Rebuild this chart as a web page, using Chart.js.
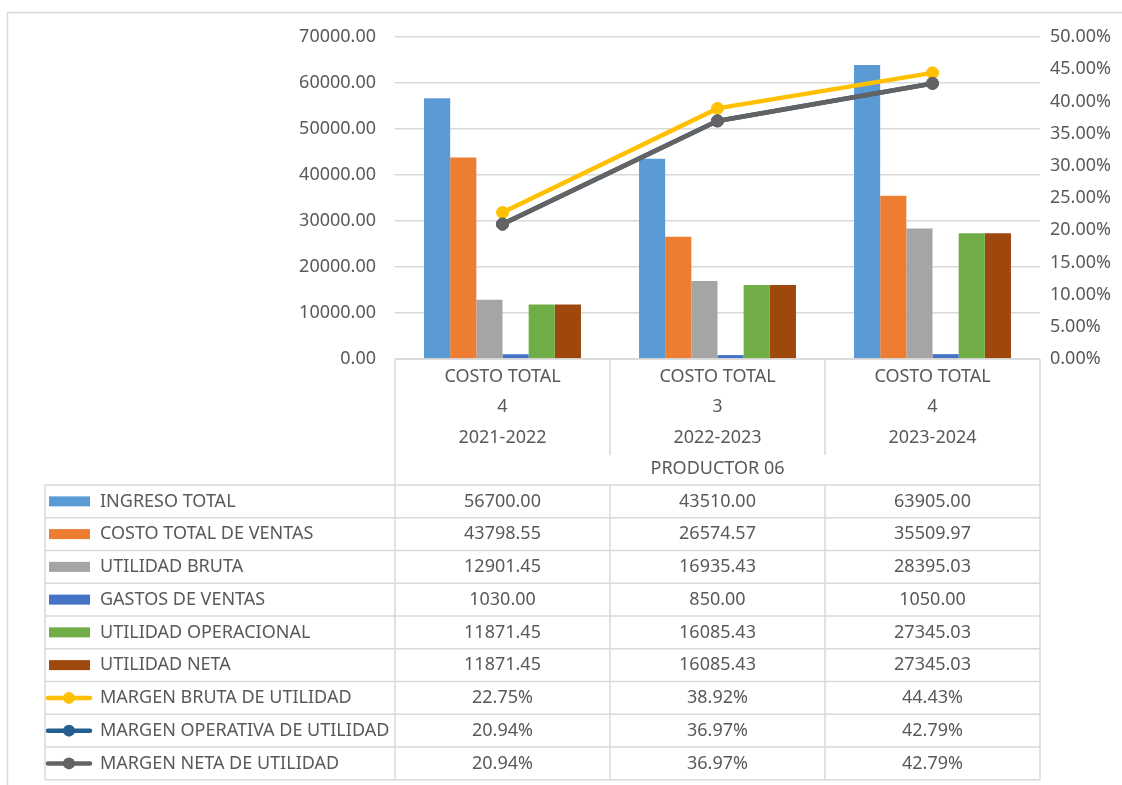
<!DOCTYPE html>
<html>
<head>
<meta charset="utf-8">
<script src="https://cdn.jsdelivr.net/npm/chart.js@4.4.1/dist/chart.umd.min.js"></script>
<style>
  html, body { margin: 0; padding: 0; background: #ffffff; }
  #wrap { position: relative; width: 1122px; height: 785px; overflow: hidden; }
</style>
</head>
<body>
<div id="wrap"><canvas id="grafico" width="1122" height="785"></canvas></div>
<script>
// Datos del productor 06
const periodos = ['2021-2022', '2022-2023', '2023-2024'];
const costoTotalN = ['4', '3', '4'];
const grupo = 'PRODUCTOR 06';

const ingresoTotal = [56700.00, 43510.00, 63905.00];
const costoVentas = [43798.55, 26574.57, 35509.97];
const utilidadBruta = [12901.45, 16935.43, 28395.03];
const gastosVentas = [1030.00, 850.00, 1050.00];
const utilidadOperacional = [11871.45, 16085.43, 27345.03];
const utilidadNeta = [11871.45, 16085.43, 27345.03];

const margenBruta = [0.2275, 0.3892, 0.4443];
const margenOperativa = [0.2094, 0.3697, 0.4279];
const margenNeta = [0.2094, 0.3697, 0.4279];

const FONT = '"Noto Sans", "Open Sans", sans-serif';
const TXT = '#595959';
const GRID = '#D9D9D9';

function barra(label, data, color) {
    return { type: 'bar', label: label, data: data, backgroundColor: color, yAxisID: 'y', order: 10 };
}
function linea(label, data, color, order) {
    return {
        type: 'line', label: label, data: data, yAxisID: 'y1', order: order,
        borderColor: color, backgroundColor: color, borderWidth: 4.5,
        pointRadius: 6, pointBackgroundColor: color, pointBorderColor: color, pointBorderWidth: 1,
        tension: 0
    };
}

const datasets = [
    barra('INGRESO TOTAL', ingresoTotal, '#5B9BD5'),
    barra('COSTO TOTAL DE VENTAS', costoVentas, '#ED7D31'),
    barra('UTILIDAD BRUTA', utilidadBruta, '#A5A5A5'),
    barra('GASTOS DE VENTAS', gastosVentas, '#4472C4'),
    barra('UTILIDAD OPERACIONAL', utilidadOperacional, '#70AD47'),
    barra('UTILIDAD NETA', utilidadNeta, '#9E480E'),
    linea('MARGEN BRUTA DE UTILIDAD', margenBruta, '#FFC000', 3),
    linea('MARGEN OPERATIVA DE UTILIDAD', margenOperativa, '#255E91', 2),
    linea('MARGEN NETA DE UTILIDAD', margenNeta, '#636363', 1)
];

// Tabla de datos debajo del grafico (como en Excel)
const tablaPlugin = {
    id: 'tablaDatos',
    afterDraw(chart) {
        const ctx = chart.ctx;
        const x = chart.scales.x;
        const area = chart.chartArea;
        const n = periodos.length;
        const bordes = [];
        for (let i = 0; i <= n; i++) bordes.push(x.getPixelForValue(i - 0.5));
        const xIzq = 45;
        const top = area.bottom;
        const filaTop = 485;
        const filaH = 32.75;
        const filas = datasets.length;
        const bottom = filaTop + filas * filaH;

        ctx.save();
        // marco exterior
        ctx.strokeStyle = GRID;
        ctx.lineWidth = 1.5;
        ctx.strokeRect(7.5, 12.5, 1300, 900);

        ctx.beginPath();
        ctx.moveTo(bordes[0], top); ctx.lineTo(bordes[n], top);
        ctx.moveTo(bordes[0], top); ctx.lineTo(bordes[0], bottom);
        ctx.moveTo(bordes[n], top); ctx.lineTo(bordes[n], bottom);
        for (let i = 1; i < n; i++) {
            ctx.moveTo(bordes[i], top); ctx.lineTo(bordes[i], 455);
            ctx.moveTo(bordes[i], filaTop); ctx.lineTo(bordes[i], bottom);
        }
        for (let r = 0; r <= filas; r++) {
            const yy = filaTop + r * filaH;
            ctx.moveTo(xIzq, yy); ctx.lineTo(bordes[n], yy);
        }
        ctx.moveTo(xIzq, filaTop); ctx.lineTo(xIzq, bottom);
        ctx.stroke();

        ctx.fillStyle = TXT;
        ctx.font = '18px ' + FONT;
        ctx.textAlign = 'center';
        ctx.textBaseline = 'middle';
        for (let i = 0; i < n; i++) {
            const cx = x.getPixelForValue(i);
            ctx.fillText('COSTO TOTAL', cx, 377);
            ctx.fillText(costoTotalN[i], cx, 407);
            ctx.fillText(periodos[i], cx, 438);
        }
        ctx.fillText(grupo, (bordes[0] + bordes[n]) / 2, 469);

        datasets.forEach((ds, r) => {
            const cy = filaTop + r * filaH + filaH / 2;
            // clave de leyenda
            if (ds.type === 'bar') {
                ctx.fillStyle = ds.backgroundColor;
                ctx.fillRect(49, cy - 5, 41, 10);
            } else {
                ctx.strokeStyle = ds.borderColor;
                ctx.lineWidth = 4.5;
                ctx.lineCap = 'round';
                ctx.beginPath();
                ctx.moveTo(48, cy); ctx.lineTo(90, cy);
                ctx.stroke();
                ctx.fillStyle = ds.borderColor;
                ctx.beginPath();
                ctx.arc(69, cy, 6, 0, Math.PI * 2);
                ctx.fill();
            }
            ctx.fillStyle = TXT;
            ctx.textAlign = 'left';
            ctx.fillText(ds.label, 100, cy);
            ctx.textAlign = 'center';
            ds.data.forEach((v, i) => {
                const txt = ds.type === 'bar' ? v.toFixed(2) : (v * 100).toFixed(2) + '%';
                ctx.fillText(txt, x.getPixelForValue(i), cy);
            });
        });
        ctx.restore();
    }
};

new Chart(document.getElementById('grafico'), {
    type: 'bar',
    data: { labels: periodos, datasets: datasets },
    options: {
        responsive: false,
        animation: false,
        layout: { padding: { top: 37, bottom: 426, left: 0, right: 0 } },
        plugins: { legend: { display: false }, tooltip: { enabled: false }, title: { display: false } },
        datasets: { bar: { categoryPercentage: 0.73, barPercentage: 1 } },
        scales: {
            x: { display: false, offset: true },
            y: {
                position: 'left', min: 0, max: 70000,
                afterFit(scale) { scale.width = 395; },
                ticks: { stepSize: 10000, color: TXT, padding: 19, font: { family: FONT, size: 18 },
                    callback: v => Number(v).toFixed(2) },
                grid: { color: GRID, lineWidth: 1.5, drawTicks: false },
                border: { display: false }
            },
            y1: {
                position: 'right', min: 0, max: 0.5,
                afterFit(scale) { scale.width = 82; },
                ticks: { stepSize: 0.05, color: TXT, padding: 10, font: { family: FONT, size: 18 },
                    callback: v => (v * 100).toFixed(2) + '%' },
                grid: { display: false, drawTicks: false },
                border: { display: false }
            }
        }
    },
    plugins: [tablaPlugin]
});
</script>
</body>
</html>
